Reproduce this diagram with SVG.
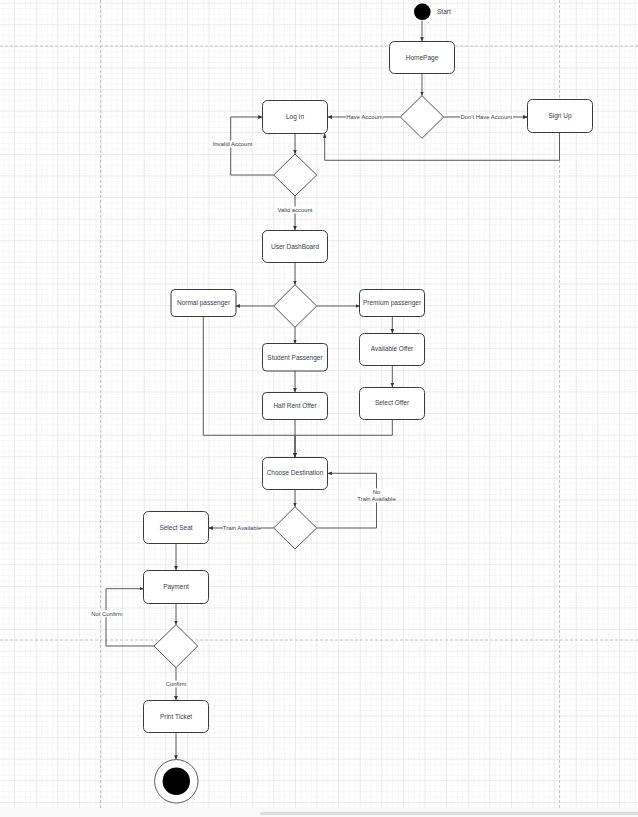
<svg xmlns="http://www.w3.org/2000/svg" width="638" height="817" viewBox="0 0 638 817">
  <style>
    .node { fill: #ffffff; stroke: #3a3a3a; stroke-width: 1; }
    .dec { fill: #ffffff; stroke: #505050; stroke-width: 1; }
    .arrow { fill: none; stroke: #5a5a5a; stroke-width: 1; marker-end: url(#head); }
    .lbl { font-family: "Liberation Sans", Arial, sans-serif; font-size: 6.5px; fill: #3a3a4a; text-anchor: middle; }
    .elbl { font-family: "Liberation Sans", Arial, sans-serif; font-size: 5.9px; fill: #3a3a4a; text-anchor: middle; }
    .lblbg { fill: #ffffff; }
  </style>
  <defs>
    <pattern id="minor" x="14.1" y="2.7" width="5.4" height="5.4" patternUnits="userSpaceOnUse">
      <path d="M0 0 H5.4 M0 0 V5.4" fill="none" stroke="#f1f1f1" stroke-width="1"/>
    </pattern>
    <pattern id="major" x="14.1" y="2.7" width="21.6" height="21.6" patternUnits="userSpaceOnUse">
      <path d="M0 0 H21.6 M0 0 V21.6" fill="none" stroke="#dddddd" stroke-width="1"/>
    </pattern>
    <marker id="head" viewBox="0 0 8 8" refX="8" refY="4" markerWidth="4.2" markerHeight="4.2" markerUnits="userSpaceOnUse" orient="auto">
      <path d="M0 0.4 L8 4 L0 7.6 z" fill="#333333"/>
    </marker>
  </defs>

  <!-- canvas background and grid -->
  <rect x="0" y="0" width="638" height="817" fill="#f9f9f9"/>
  <rect x="0" y="0" width="638" height="808" fill="#ffffff"/>
  <rect x="0" y="0" width="638" height="808" fill="url(#minor)"/>
  <rect x="0" y="0" width="638" height="808" fill="url(#major)"/>
  <!-- page breaks -->
  <g fill="none" stroke="#c4c4c4" stroke-width="1" stroke-dasharray="3 2">
    <line x1="100.5" y1="0" x2="100.5" y2="808"/>
    <line x1="559.5" y1="0" x2="559.5" y2="808"/>
    <line x1="0" y1="46" x2="638" y2="46"/>
    <line x1="0" y1="640" x2="638" y2="640"/>
  </g>
  <!-- horizontal scrollbar -->
  <rect x="260" y="812" width="380" height="3" rx="1.5" fill="#dedede"/>

  <!-- connectors -->
  <g id="connectors">
    <path class="arrow" d="M422 20.5 V41.5"/>
    <path class="arrow" d="M422 73.5 V95.7"/>
    <path class="arrow" d="M400.3 117 H327.7"/>
    <path class="arrow" d="M443.7 117 H527.3"/>
    <path class="arrow" d="M559.5 132.5 V160.3 H324.7 V133.5"/>
    <path class="arrow" d="M295 133.5 V154"/>
    <path class="arrow" d="M273.7 175 H230.7 V117 H262.3"/>
    <path class="arrow" d="M295 196 V230.3"/>
    <path class="arrow" d="M295 262.5 V284.7"/>
    <path class="arrow" d="M273.7 306 H235.7"/>
    <path class="arrow" d="M316.7 306 H359.7"/>
    <path class="arrow" d="M295 327.3 V343.7"/>
    <path class="arrow" d="M392.3 316.7 V333.3"/>
    <path class="arrow" d="M295 371 V392.3"/>
    <path class="arrow" d="M392.3 365.3 V387"/>
    <path class="arrow" d="M203.3 316.7 V435.3 H295 V457.3"/>
    <path class="arrow" d="M392.3 419.3 V435.3 H295 V457.3"/>
    <path class="arrow" d="M295 419.3 V457.3"/>
    <path class="arrow" d="M295 489.3 V506.7"/>
    <path class="arrow" d="M316.7 528 H376.5 V473.3 H327.7"/>
    <path class="arrow" d="M273.7 528 H208.7"/>
    <path class="arrow" d="M176 543.3 V570.3"/>
    <path class="arrow" d="M176 603.3 V624.7"/>
    <path class="arrow" d="M154 646 H106 V588.7 H143.7"/>
    <path class="arrow" d="M176 667.7 V700.3"/>
    <path class="arrow" d="M176 732.3 V759.5"/>

    <!-- connector labels -->
    <rect class="lblbg" x="346" y="113.5" width="37" height="7"/>
    <text class="elbl" x="364.5" y="119.1">Have Account</text>
    <rect class="lblbg" x="460" y="113.5" width="53" height="7"/>
    <text class="elbl" x="486.3" y="119.1">Don't Have Account</text>
    <rect class="lblbg" x="212.5" y="140.5" width="40" height="7"/>
    <text class="elbl" x="232.5" y="146.1">Invalid Account</text>
    <rect class="lblbg" x="277.5" y="206.5" width="35" height="7"/>
    <text class="elbl" x="295" y="212.1">Valid account</text>
    <rect class="lblbg" x="357.5" y="488.5" width="38" height="14"/>
    <text class="elbl" x="376.5" y="494.1">No</text>
    <text class="elbl" x="376.5" y="501.1">Train Available</text>
    <rect class="lblbg" x="223" y="524.5" width="38" height="7"/>
    <text class="elbl" x="242" y="530.1">Train Available</text>
    <rect class="lblbg" x="91" y="610.2" width="32" height="7"/>
    <text class="elbl" x="107" y="615.8">Not Confirm</text>
    <rect class="lblbg" x="165" y="680.5" width="22" height="7"/>
    <text class="elbl" x="176" y="686.1">Confirm</text>
  </g>

  <!-- nodes -->
  <g id="start">
    <circle cx="422.3" cy="11.8" r="8.3" fill="#000000"/>
    <text class="lbl" x="437" y="14.2" style="text-anchor:start">Start</text>
  </g>
  <g id="homepage">
    <rect class="node" x="389.5" y="41.5" width="65" height="32" rx="5"/>
    <text class="lbl" x="422" y="60">HomePage</text>
  </g>
  <g id="account-check">
    <path class="dec" d="M422 95.7 L443.7 117 L422 138.3 L400.3 117 z"/>
  </g>
  <g id="login">
    <rect class="node" x="262.5" y="100.5" width="65" height="33" rx="5"/>
    <text class="lbl" x="295" y="119.3">Log In</text>
  </g>
  <g id="signup">
    <rect class="node" x="527.5" y="99.5" width="65" height="33" rx="5"/>
    <text class="lbl" x="560" y="118.3">Sign Up</text>
  </g>
  <g id="login-check">
    <path class="dec" d="M295 154 L316.7 175 L295 196 L273.7 175 z"/>
  </g>
  <g id="dashboard">
    <rect class="node" x="262.5" y="230.5" width="65" height="32" rx="5"/>
    <text class="lbl" x="295" y="248.8">User DashBoard</text>
  </g>
  <g id="passenger-type">
    <path class="dec" d="M295 284.7 L316.7 306 L295 327.3 L273.7 306 z"/>
  </g>
  <g id="normal">
    <rect class="node" x="171" y="289.5" width="65" height="27" rx="4"/>
    <text class="lbl" x="203.5" y="305.3">Normal passenger</text>
  </g>
  <g id="premium">
    <rect class="node" x="359.5" y="289.5" width="65" height="27" rx="4"/>
    <text class="lbl" x="392" y="305.3">Premium passenger</text>
  </g>
  <g id="student">
    <rect class="node" x="262.5" y="343.5" width="65" height="27.5" rx="4"/>
    <text class="lbl" x="295" y="359.5">Student Passenger</text>
  </g>
  <g id="half-rent">
    <rect class="node" x="262.5" y="392.5" width="65" height="27" rx="4"/>
    <text class="lbl" x="295" y="408.3">Half Rent Offer</text>
  </g>
  <g id="available-offer">
    <rect class="node" x="359.5" y="333.5" width="65" height="32" rx="5"/>
    <text class="lbl" x="392" y="351.3">Available Offer</text>
  </g>
  <g id="select-offer">
    <rect class="node" x="359.5" y="387.5" width="65" height="32" rx="5"/>
    <text class="lbl" x="392" y="405.3">Select Offer</text>
  </g>
  <g id="destination">
    <rect class="node" x="262.5" y="457.5" width="65" height="32" rx="5"/>
    <text class="lbl" x="295" y="475.3">Choose Destination</text>
  </g>
  <g id="train-check">
    <path class="dec" d="M295 506.7 L316.7 528 L295 549 L273.7 528 z"/>
  </g>
  <g id="select-seat">
    <rect class="node" x="143.5" y="511.5" width="65" height="32" rx="5"/>
    <text class="lbl" x="176" y="530.3">Select Seat</text>
  </g>
  <g id="payment">
    <rect class="node" x="143.5" y="570.5" width="65" height="33" rx="5"/>
    <text class="lbl" x="176" y="589.3">Payment</text>
  </g>
  <g id="payment-check">
    <path class="dec" d="M176 624.7 L197.7 646 L176 667.7 L154 646 z"/>
  </g>
  <g id="print-ticket">
    <rect class="node" x="143.5" y="700.5" width="65" height="32" rx="5"/>
    <text class="lbl" x="176" y="719">Print Ticket</text>
  </g>
  <g id="end">
    <circle cx="176.3" cy="781.3" r="21.7" fill="#ffffff" stroke="#333333" stroke-width="0.8"/>
    <circle cx="176.3" cy="781.3" r="13.7" fill="#000000"/>
  </g>
</svg>
